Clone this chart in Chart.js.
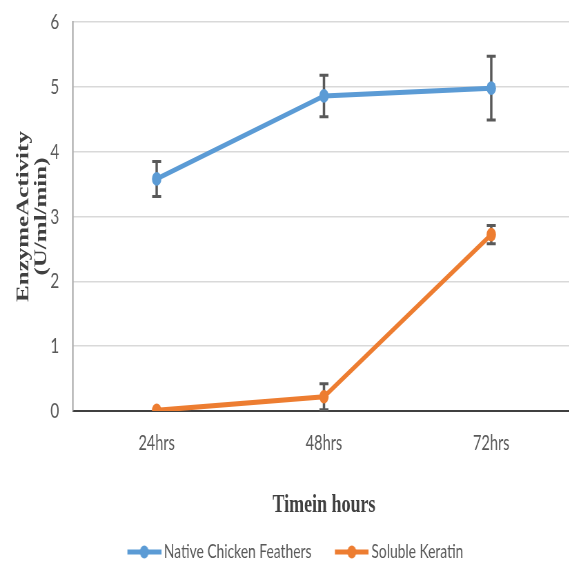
<!DOCTYPE html>
<html>
<head>
<meta charset="utf-8">
<script src="https://cdn.jsdelivr.net/npm/chart.js@4/dist/chart.umd.min.js"></script>
<style>
  html, body { margin: 0; padding: 0; background: #fff; overflow: hidden; }
  #wrap { width: 569px; height: 565px; overflow: hidden; position: relative; }
  /* the figure is drawn wide and then narrowed horizontally */
  #box { position: absolute; left: 0; top: 0; width: 840px; height: 565px;
         transform: scaleX(0.69); transform-origin: 0 0; }
</style>
</head>
<body>
<div id="wrap"><div id="box"><canvas id="c"></canvas></div></div>
<script>
// Enzyme activity over incubation time
const categories = ['24hrs', '48hrs', '72hrs'];
const featherActivity = [3.58, 4.86, 4.98];
const featherError = [0.27, 0.32, 0.49];
const keratinActivity = [0.01, 0.22, 2.72];
const keratinError = [0, 0.20, 0.14];
const yTicks = [0, 1, 2, 3, 4, 5, 6];

const seriesNames = ['Native Chicken Feathers', 'Soluble Keratin'];
const seriesColors = ['#5B9BD5', '#ED7D31'];
const errorSets = [featherError, keratinError];

// legend key: short line with a dot in the middle
function legendMarker(color) {
  const w = 85, h = 22;
  const c = document.createElement('canvas');
  c.width = w; c.height = h;
  const g = c.getContext('2d');
  g.strokeStyle = color; g.lineWidth = 5;
  g.beginPath(); g.moveTo(36, h / 2); g.lineTo(85, h / 2); g.stroke();
  g.fillStyle = color;
  g.beginPath(); g.arc(60.5, h / 2, 6.5, 0, Math.PI * 2); g.fill();
  return c;
}
const markers = seriesColors.map(legendMarker);

// vertical error bars with caps, drawn beneath lines and points
const errorBars = {
  id: 'errorBars',
  beforeDatasetsDraw(chart) {
    const { ctx, scales: { y } } = chart;
    ctx.save();
    ctx.strokeStyle = '#595959';
    chart.data.datasets.forEach((ds, i) => {
      const meta = chart.getDatasetMeta(i);
      const errs = errorSets[i];
      meta.data.forEach((pt, j) => {
        const e = errs[j];
        if (!e) return;
        const v = ds.data[j];
        const yTop = y.getPixelForValue(v + e);
        const yBot = y.getPixelForValue(v - e);
        const x = pt.x;
        ctx.lineWidth = 3.5;
        ctx.beginPath(); ctx.moveTo(x, yTop); ctx.lineTo(x, yBot); ctx.stroke();
        ctx.lineWidth = 3;
        ctx.beginPath();
        ctx.moveTo(x - 6.5, yTop); ctx.lineTo(x + 6.5, yTop);
        ctx.moveTo(x - 6.5, yBot); ctx.lineTo(x + 6.5, yBot);
        ctx.stroke();
      });
    });
    ctx.restore();
  }
};

const makeSet = (i, values) => ({
  label: seriesNames[i],
  data: values,
  borderColor: seriesColors[i],
  backgroundColor: seriesColors[i],
  borderWidth: 5,
  pointRadius: 6.8,
  pointBorderWidth: 0,
  pointHoverRadius: 6.8,
  tension: 0
});

new Chart(document.getElementById('c'), {
  type: 'line',
  data: {
    labels: categories,
    datasets: [makeSet(0, featherActivity), makeSet(1, keratinActivity)]
  },
  plugins: [errorBars],
  options: {
    responsive: true,
    maintainAspectRatio: false,
    devicePixelRatio: 1,
    animation: false,
    layout: { padding: { left: -9, right: 5, top: 22, bottom: -7 } },
    plugins: {
      tooltip: { enabled: false },
      legend: {
        position: 'bottom',
        labels: {
          usePointStyle: true,
          pointStyleWidth: 73,
          padding: 4,
          color: '#595959',
          font: { family: 'Lato', size: 20 },
          generateLabels(chart) {
            const items = Chart.defaults.plugins.legend.labels.generateLabels(chart);
            items.forEach((it, i) => { it.pointStyle = markers[i]; });
            return items;
          }
        }
      }
    },
    scales: {
      x: {
        offset: true,
        afterFit(s) { s.height = 127; },
        grid: { display: false, drawTicks: false },
        border: { display: true, color: '#404040', width: 2 },
        ticks: { color: '#595959', padding: 20, font: { family: 'Lato', size: 21 } },
        title: {
          display: true,
          text: 'Timein hours',
          color: '#404040',
          font: { family: 'Liberation Serif', size: 26, weight: 'bold', lineHeight: 1.2 },
          padding: { top: 0, bottom: 17.4 }
        }
      },
      y: {
        min: yTicks[0],
        max: yTicks[yTicks.length - 1],
        afterFit(s) { s.width = 114.8; s.paddingTop = 0; s.paddingBottom = 0; },
        afterBuildTicks(s) { s.ticks = yTicks.map(v => ({ value: v })); },
        grid: { color: '#d9d9d9', lineWidth: 1.5, drawTicks: false },
        border: { display: true, color: '#8c8c8c', width: 1.5 },
        ticks: { color: '#595959', padding: 20, font: { family: 'Lato', size: 22 } },
        title: {
          display: true,
          text: ['EnzymeActivity', '(U/ml/min)'],
          color: '#404040',
          font: { family: 'Liberation Serif', size: 25, weight: 'bold', lineHeight: 1.04 },
          padding: { top: 31, bottom: 0 }
        }
      }
    }
  }
});
</script>
</body>
</html>
